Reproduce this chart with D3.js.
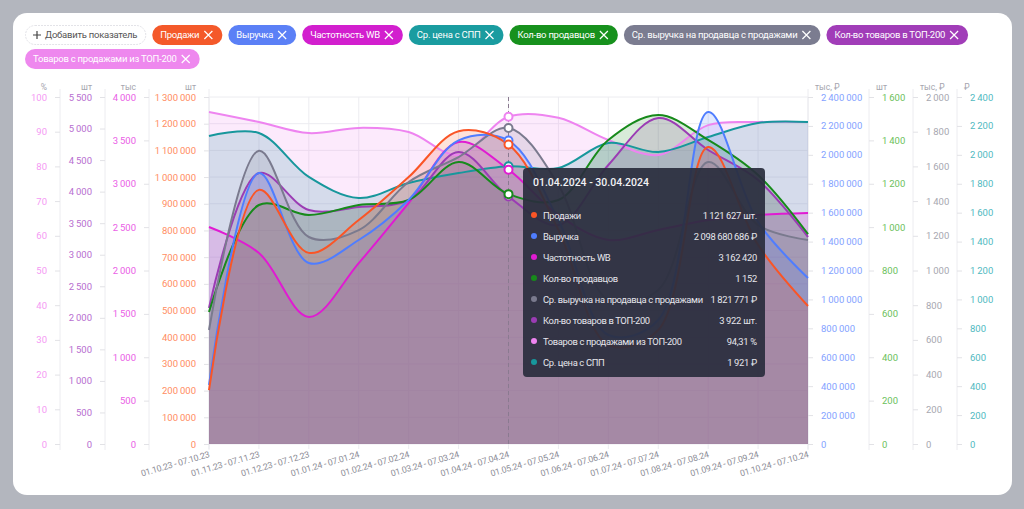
<!DOCTYPE html>
<html>
<head>
<meta charset="utf-8">
<script src="https://cdn.jsdelivr.net/npm/d3@7"></script>
<style>
  body { margin: 0; background: #b3b6be; font-family: Roboto, "Noto Sans", sans-serif; }
  svg { display: block; font-family: Roboto, "Noto Sans", sans-serif; }
</style>
</head>
<body>
<svg id="chart" width="1024" height="509"></svg>
<script>
// weeks on the x axis
const categories = [
  "01.10.23 - 07.10.23", "01.11.23 - 07.11.23", "01.12.23 - 07.12.23", "01.01.24 - 07.01.24",
  "01.02.24 - 07.02.24", "01.03.24 - 07.03.24", "01.04.24 - 07.04.24", "01.05.24 - 07.05.24",
  "01.06.24 - 07.06.24", "01.07.24 - 07.07.24", "01.08.24 - 07.08.24", "01.09.24 - 07.09.24",
  "01.10.24 - 07.10.24"
];

// series values
const sales = [202000, 952000, 716000, 839000, 1000000, 1172000, 1121627, 802000, 371000, 427000, 1113000, 746000, 517000];           // шт
const revenue = [408000, 1874000, 1252000, 1411000, 1688000, 2100000, 2098680.686, 1549000, 754000, 858000, 2296000, 1535000, 1148000]; // тыс ₽
const frequencyWB = [2501, 2202, 1464, 2086, 2778, 3481, 3162.42, 2640, 2352, 2467, 2582, 2640, 2663];   // тыс
const sellers = [609, 1102, 1056, 1102, 1125, 1300, 1152, 1125, 1402, 1517, 1402, 1240, 968];            // шт
const avgRevenuePerSeller = [657, 1690, 1193, 1233, 1510, 1654, 1821.771, 1493, 830, 888, 1625, 1262, 1176]; // тыс ₽
const top200Items = [2156, 4295, 3709, 3757, 3867, 4628, 3922, 3471, 4422, 5167, 4660, 4184, 3281];     // шт
const top200Share = [95.7, 92.8, 89.6, 91.1, 89.9, 83.3, 94.31, 94.0, 87.6, 83.3, 91.9, 92.8, 92.8];     // %
const avgPriceSPP = [2130, 2151, 1847, 1701, 1805, 1874, 1921, 1909, 2082, 2019, 2123, 2220, 2227];      // ₽

const chipLabels = ["Продажи", "Выручка", "Частотность WB", "Ср. цена с СПП", "Кол-во продавцов",
  "Ср. выручка на продавца с продажами", "Кол-во товаров в ТОП-200", "Товаров с продажами из ТОП-200"];
const chipColors = ["#f4592a", "#5b80f6", "#d21fce", "#1a9ca0", "#17911d", "#7b7c90", "#a13db8", "#ee88ee"];

const hoverIndex = 6;
const tooltipTitle = "01.04.2024 - 30.04.2024";

const fmt = v => d3.format(",")(Math.round(v)).replace(/,/g, "\u2009");

const svg = d3.select("#chart");
const plotTop = 97, plotBottom = 444, plotLeft = 209, plotRight = 808;

// card
svg.append("rect").attr("x", 13).attr("y", 13).attr("width", 999).attr("height", 482)
  .attr("rx", 14).attr("fill", "#fff");

// ---- chips
const chipsG = svg.append("g");
const chipFont = 9.5, chipSpacing = -0.25;
function measure(text) {
  const t = svg.append("text").attr("font-size", chipFont).attr("letter-spacing", chipSpacing).text(text);
  const w = t.node().getComputedTextLength();
  t.remove();
  return w;
}
function drawX(g, x, y, color) {
  g.append("path").attr("d", `M${x - 4},${y - 4}L${x + 4},${y + 4}M${x + 4},${y - 4}L${x - 4},${y + 4}`)
    .attr("stroke", color).attr("stroke-width", 1.2).attr("fill", "none");
}
let cx = 25, cy = 25;
{
  const txt = "Добавить показатель";
  const w = measure(txt) + 28;
  const g = chipsG.append("g");
  g.append("rect").attr("x", cx + 0.5).attr("y", cy + 0.5).attr("width", w).attr("height", 19).attr("rx", 9.5)
    .attr("fill", "#fff").attr("stroke", "#e3e3e8").attr("stroke-dasharray", "2 1");
  g.append("path").attr("d", `M${cx + 8},${cy + 10}h8M${cx + 12},${cy + 6}v8`).attr("stroke", "#444").attr("stroke-width", 1.2);
  g.append("text").attr("x", cx + 20).attr("y", cy + 13.3).attr("font-size", chipFont)
    .attr("letter-spacing", chipSpacing).attr("fill", "#555").text(txt);
  cx += w + 7;
}
chipLabels.forEach((label, i) => {
  const w = measure(label) + 31;
  if (cx + w > 1000) { cx = 25; cy = 49; }
  const g = chipsG.append("g");
  g.append("rect").attr("x", cx).attr("y", cy).attr("width", w).attr("height", 20).attr("rx", 10).attr("fill", chipColors[i]);
  g.append("text").attr("x", cx + 8).attr("y", cy + 13.3).attr("font-size", chipFont)
    .attr("letter-spacing", chipSpacing).attr("fill", "#fff").text(label);
  drawX(g, cx + w - 14, cy + 10, "#fff");
  cx += w + 6;
});

// ---- scales
const x = d3.scalePoint().domain(categories).range([plotLeft, plotRight]);

const series = [
  { name: "Товаров с продажами из ТОП-200", values: top200Share, color: "#ee84f0", max: 100 },
  { name: "Ср. цена с СПП", values: avgPriceSPP, color: "#17979c", max: 2400 },
  { name: "Частотность WB", values: frequencyWB, color: "#e01bd2", max: 4000 },
  { name: "Кол-во товаров в ТОП-200", values: top200Items, color: "#9b3cb4", max: 5500 },
  { name: "Кол-во продавцов", values: sellers, color: "#178a1b", max: 1600 },
  { name: "Ср. выручка на продавца с продажами", values: avgRevenuePerSeller, color: "#7a7a8e", max: 2000 },
  { name: "Выручка", values: revenue, color: "#4f7dff", max: 2400000 },
  { name: "Продажи", values: sales, color: "#fa5526", max: 1300000 }
];
series.forEach(s => { s.y = d3.scaleLinear().domain([0, s.max]).range([plotBottom, plotTop]); });
const byName = Object.fromEntries(series.map(s => [s.name, s]));

// ---- grid
const grid = svg.append("g");
byName["Продажи"].y.ticks(13).forEach(t => {
  grid.append("line").attr("x1", plotLeft).attr("x2", plotRight)
    .attr("y1", byName["Продажи"].y(t)).attr("y2", byName["Продажи"].y(t))
    .attr("stroke", "#ececf0");
});
categories.forEach(c => {
  grid.append("line").attr("x1", x(c)).attr("x2", x(c)).attr("y1", plotTop).attr("y2", plotBottom + 5).attr("stroke", "#ececf0");
});

// ---- axes
const axesDef = [
  { s: "Товаров с продажами из ТОП-200", pos: 60, side: "left", step: 10, color: "#f59af4", unit: "%" },
  { s: "Кол-во товаров в ТОП-200", pos: 105, side: "left", step: 500, color: "#b76ed0", unit: "шт" },
  { s: "Частотность WB", pos: 149, side: "left", step: 500, color: "#ea60e6", unit: "тыс" },
  { s: "Продажи", pos: 209, side: "left", step: 100000, color: "#ff8d62", unit: "шт" },
  { s: "Выручка", pos: 808, side: "right", step: 200000, color: "#84a2ff", unit: "тыс, ₽" },
  { s: "Кол-во продавцов", pos: 869, side: "right", step: 200, color: "#6cbf5c", unit: "шт" },
  { s: "Ср. выручка на продавца с продажами", pos: 913, side: "right", step: 200, color: "#a7a7b0", unit: "тыс, ₽" },
  { s: "Ср. цена с СПП", pos: 957, side: "right", step: 200, color: "#4fb9bf", unit: "₽" }
];
axesDef.forEach(a => {
  const sc = byName[a.s].y;
  const ticks = d3.range(0, byName[a.s].max + a.step / 2, a.step);
  const axis = (a.side === "left" ? d3.axisLeft(sc) : d3.axisRight(sc))
    .tickValues(ticks).tickSize(5).tickPadding(8).tickFormat(fmt);
  const g = svg.append("g").attr("transform", `translate(${a.pos},0)`).call(axis);
  g.select(".domain").attr("stroke", "#ececf0").attr("d", `M0,${plotTop - 8}V${plotBottom + 6}`);
  g.selectAll(".tick line").attr("stroke", "#e2e2e6");
  g.selectAll(".tick text").attr("fill", a.color).attr("font-size", 9.5).attr("font-family", "Roboto, sans-serif");
  svg.append("text")
    .attr("x", a.side === "left" ? a.pos - 13 : a.pos + 7)
    .attr("y", 90).attr("font-size", 8.5).attr("fill", "#a5a5ae")
    .attr("text-anchor", a.side === "left" ? "end" : "start").text(a.unit);
});

// x axis labels
const xg = svg.append("g");
categories.forEach(c => {
  xg.append("text")
    .attr("transform", `translate(${x(c) + 1},${plotBottom + 13}) rotate(-16)`)
    .attr("text-anchor", "end").attr("font-size", 8.8).attr("letter-spacing", -0.25)
    .attr("fill", "#8c8c96").text(c);
});

// ---- areas and lines
const curve = d3.curveCatmullRom.alpha(0.5);
const plot = svg.append("g");
series.forEach(s => {
  const area = d3.area().x((d, i) => x(categories[i])).y0(plotBottom).y1(d => s.y(d)).curve(curve);
  plot.append("path").attr("d", area(s.values)).attr("fill", s.color).attr("fill-opacity", 0.17);
});
series.forEach(s => {
  const line = d3.line().x((d, i) => x(categories[i])).y(d => s.y(d)).curve(curve);
  plot.append("path").attr("d", line(s.values)).attr("fill", "none").attr("stroke", s.color).attr("stroke-width", 2);
});

// hover line + markers
const hx = x(categories[hoverIndex]);
svg.append("line").attr("x1", hx).attr("x2", hx).attr("y1", plotTop).attr("y2", plotBottom)
  .attr("stroke", "#8a7a90").attr("stroke-dasharray", "4 3");
series.forEach(s => {
  svg.append("circle").attr("cx", hx).attr("cy", s.y(s.values[hoverIndex])).attr("r", 4)
    .attr("fill", "#fff").attr("stroke", s.color).attr("stroke-width", 2);
});

// ---- tooltip
const tipRows = [
  { s: "Продажи", text: v => fmt(v) + " шт." },
  { s: "Выручка", text: v => fmt(v * 1000) + " ₽" },
  { s: "Частотность WB", text: v => fmt(v * 1000) },
  { s: "Кол-во продавцов", text: v => fmt(v) },
  { s: "Ср. выручка на продавца с продажами", text: v => fmt(v * 1000) + " ₽" },
  { s: "Кол-во товаров в ТОП-200", text: v => fmt(v) + " шт." },
  { s: "Товаров с продажами из ТОП-200", text: v => v.toFixed(2).replace(".", ",") + " %" },
  { s: "Ср. цена с СПП", text: v => fmt(v) + " ₽" }
];
const tip = svg.append("g").attr("transform", "translate(523,168)");
tip.append("rect").attr("width", 242).attr("height", 209).attr("rx", 4)
  .attr("fill", "#2a2d3d").attr("fill-opacity", 0.93);
tip.append("text").attr("x", 10).attr("y", 18).attr("font-size", 10.5).attr("font-weight", 500)
  .attr("fill", "#f2f2f5").text(tooltipTitle);
tipRows.forEach((r, i) => {
  const s = byName[r.s];
  const yy = 47 + i * 21;
  tip.append("circle").attr("cx", 11).attr("cy", yy).attr("r", 3).attr("fill", s.color);
  tip.append("text").attr("x", 20).attr("y", yy + 3.5).attr("font-size", 9.4).attr("letter-spacing", -0.35)
    .attr("fill", "#e6e6ec").text(s.name);
  tip.append("text").attr("x", 234).attr("y", yy + 3.5).attr("font-size", 9.4).attr("letter-spacing", -0.25)
    .attr("fill", "#e6e6ec").attr("text-anchor", "end").text(r.text(s.values[hoverIndex]));
});
</script>
</body>
</html>
